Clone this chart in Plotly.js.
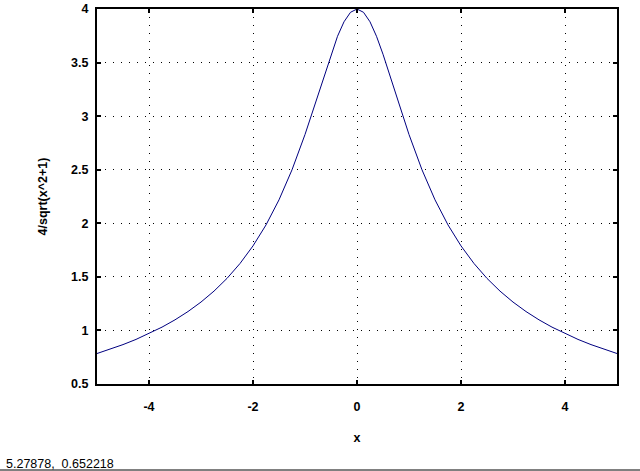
<!DOCTYPE html>
<html>
<head>
<meta charset="utf-8">
<script src="https://cdn.plot.ly/plotly-3.0.1.min.js"></script>
<style>
html,body{margin:0;padding:0;background:#fff;}
#chart{width:640px;height:471px;}
</style>
</head>
<body>
<div id="chart"></div>
<script>
// Values
const xValues = [-5, -4.75, -4.5, -4.25, -4, -3.75, -3.5, -3.25, -3, -2.75, -2.5, -2.25, -2, -1.75, -1.5, -1.25, -1, -0.875, -0.75, -0.625, -0.5, -0.375, -0.25, -0.125, 0,
  0.125, 0.25, 0.375, 0.5, 0.625, 0.75, 0.875, 1, 1.25, 1.5, 1.75, 2, 2.25, 2.5, 2.75, 3, 3.25, 3.5, 3.75, 4, 4.25, 4.5, 4.75, 5];
const yValues = [0.7845, 0.8240, 0.8677, 0.9162, 0.9701, 1.0307, 1.0989, 1.1763, 1.2649, 1.3670, 1.4856, 1.6246, 1.7889, 1.9846, 2.2188, 2.4988, 2.8284, 3.0103, 3.2000, 3.3920, 3.5777, 3.7453, 3.8806, 3.9691, 4.0000,
  3.9691, 3.8806, 3.7453, 3.5777, 3.3920, 3.2000, 3.0103, 2.8284, 2.4988, 2.2188, 1.9846, 1.7889, 1.6246, 1.4856, 1.3670, 1.2649, 1.1763, 1.0989, 1.0307, 0.9701, 0.9162, 0.8677, 0.8240, 0.7845];
const xTicks = [-4, -2, 0, 2, 4];
const yTicks = [0.5, 1, 1.5, 2, 2.5, 3, 3.5, 4];
const xTitle = 'x';
const yTitle = '4/sqrt(x^2+1)';
const statusText = '5.27878,  0.652218';

const fontFam = '"Liberation Sans", Arial, sans-serif';

const trace = {
  x: xValues, y: yValues, type: 'scatter', mode: 'lines',
  line: {color: '#000080', width: 1}, hoverinfo: 'skip'
};

const axisCommon = {
  showline: true, linecolor: '#000', linewidth: 2, mirror: 'ticks',
  ticks: 'inside', ticklen: 4, tickwidth: 2, tickcolor: '#000',
  showgrid: true, gridcolor: '#000', gridwidth: 1, griddash: '1px,7px',
  zeroline: false,
  tickfont: {family: fontFam, size: 12.5, color: '#000', weight: 'bold'}
};

const layout = {
  width: 640, height: 471,
  margin: {l: 97, r: 23, t: 9, b: 87},
  paper_bgcolor: '#fff', plot_bgcolor: '#fff',
  showlegend: false,
  xaxis: Object.assign({}, axisCommon, {
    range: [-5, 5], tickmode: 'array', tickvals: xTicks, ticktext: xTicks.map(String),
    ticklabelstandoff: 10,
    title: {text: xTitle, standoff: 20, font: {family: fontFam, size: 12.5, color: '#000', weight: 'bold'}}
  }),
  yaxis: Object.assign({}, axisCommon, {
    range: [0.5, 4], tickmode: 'array', tickvals: yTicks, ticktext: yTicks.map(String),
    ticklabelstandoff: 4,
    title: {text: yTitle, standoff: 21, font: {family: fontFam, size: 12.5, color: '#000', weight: 'bold'}}
  }),
  annotations: [{
    text: statusText, xref: 'paper', yref: 'paper', x: -97/520, y: -(464-384)/375,
    xanchor: 'left', yanchor: 'middle', showarrow: false,
    xshift: 4,
    font: {family: fontFam, size: 12.5, color: '#000'}
  }],
  shapes: [{
    type: 'line', xref: 'paper', yref: 'paper',
    x0: -97/520, x1: 617/520 + 23/520, y0: -(470-384)/375, y1: -(470-384)/375,
    line: {color: '#000', width: 1}
  }]
};

Plotly.newPlot('chart', [trace], layout, {displayModeBar: false, staticPlot: true});
</script>
</body>
</html>
